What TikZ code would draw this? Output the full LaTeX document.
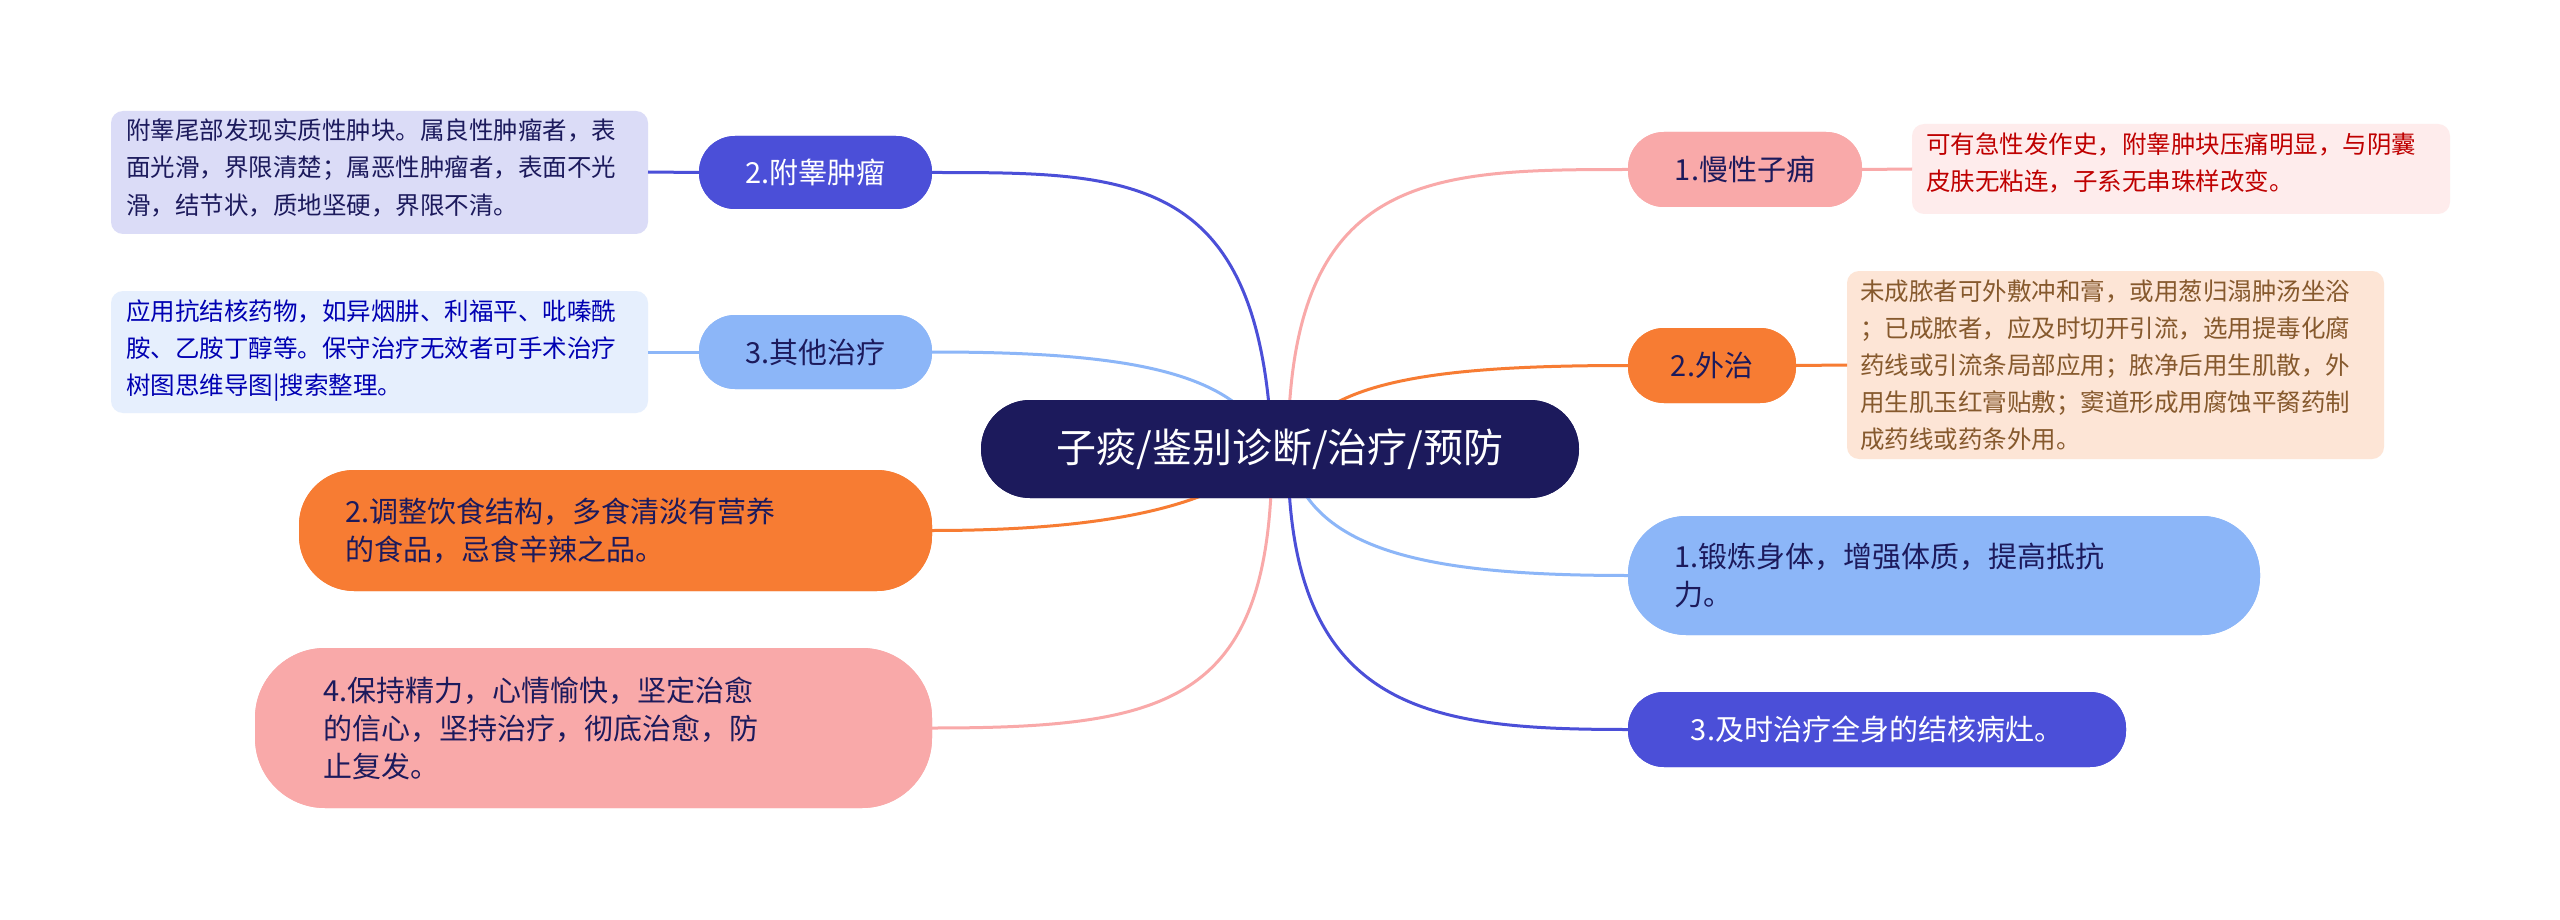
\documentclass[tikz,border=0pt]{standalone}
\usepackage{fontspec}
\setmainfont{Noto Sans CJK SC}
\begin{document}
\begin{tikzpicture}[x=1pt,y=-1pt,
  box/.style={rounded corners=#1, inner sep=0pt, anchor=north west},
  lbl/.style={font=\fontsize{29}{38}\selectfont, align=left},
  desc/.style={font=\fontsize{24.5}{37}\selectfont, align=left, anchor=north west, inner sep=0pt},
  edge/.style={line width=3pt}]
\definecolor{navy}{HTML}{1C1A5C}
\definecolor{blueA}{HTML}{4B4FD8}
\definecolor{lblue}{HTML}{8CB6F8}
\definecolor{orng}{HTML}{F77C33}
\definecolor{pnk}{HTML}{F9A9A9}
\useasboundingbox (0,0) rectangle (2560,920);
\fill[white] (0,0) rectangle (2560,920);
% center
\node[fill=navy, rounded corners=49pt, minimum width=598pt, minimum height=98pt, text=white, font=\fontsize{40}{48}\selectfont] (c) at (1280,449) {子痰/鉴别诊断/治疗/预防};
\coordinate (cR) at (1288,452);
\coordinate (cL) at (1272,452);
% left branches
\node[fill=blueA, rounded corners=36pt, minimum width=233pt, minimum height=73pt, text=white, lbl] (a1) at (815.5,172.5) {2.附睾肿瘤};
\node[fill=lblue, rounded corners=36pt, minimum width=233pt, minimum height=74pt, text=navy, lbl] (a2) at (815.5,352) {3.其他治疗};
\node[fill=orng, rounded corners=55pt, minimum width=633pt, minimum height=121pt, text=navy, lbl, text width=540pt] (a3) at (615.5,530.5) {2.调整饮食结构，多食清淡有营养\\的食品，忌食辛辣之品。};
\node[fill=pnk, rounded corners=70pt, minimum width=677pt, minimum height=160pt, text=navy, lbl, text width=540pt] (a4) at (593.5,728) {4.保持精力，心情愉快，坚定治愈\\的信心，坚持治疗，彻底治愈，防\\止复发。};
% right branches
\node[fill=pnk, rounded corners=36pt, minimum width=234pt, minimum height=75pt, text=navy, lbl] (b1) at (1745,169.5) {1.慢性子痈};
\node[fill=orng, rounded corners=36pt, minimum width=168pt, minimum height=75pt, text=navy, lbl] (b2) at (1712,365.5) {2.外治};
\node[fill=lblue, rounded corners=58pt, minimum width=632pt, minimum height=119pt, text=navy, lbl, text width=540pt] (b3) at (1944,575.5) {1.锻炼身体，增强体质，提高抵抗\\力。};
\node[fill=blueA, rounded corners=36pt, minimum width=498pt, minimum height=75pt, text=white, lbl] (b4) at (1877,729.5) {3.及时治疗全身的结核病灶。};
% descriptions
\fill[fill=blueA!20, rounded corners=12pt] (111,111) rectangle (648,234);
\node[desc, text=navy] (d1) at (126,119) {附睾尾部发现实质性肿块。属良性肿瘤者，表\\面光滑，界限清楚；属恶性肿瘤者，表面不光\\滑，结节状，质地坚硬，界限不清。};
\fill[fill=lblue!22, rounded corners=12pt] (111,291) rectangle (648,413);
\node[desc, text=blue!70!black] (d2) at (126,299) {应用抗结核药物，如异烟肼、利福平、吡嗪酰\\胺、乙胺丁醇等。保守治疗无效者可手术治疗\\树图思维导图|搜索整理。};
\fill[fill=pnk!22, rounded corners=12pt] (1912,124) rectangle (2450,214);
\node[desc, text=red!75!black] (d3) at (1926,133) {可有急性发作史，附睾肿块压痛明显，与阴囊\\皮肤无粘连，子系无串珠样改变。};
\fill[fill=orng!20, rounded corners=12pt] (1847,271) rectangle (2384,459);
\node[desc, text=brown!70!black] (d4) at (1860,280) {未成脓者可外敷冲和膏，或用葱归溻肿汤坐浴\\；已成脓者，应及时切开引流，选用提毒化腐\\药线或引流条局部应用；脓净后用生肌散，外\\用生肌玉红膏贴敷；窦道形成用腐蚀平胬药制\\成药线或药条外用。};
% edges
\begin{scope}[on background layer/.try]
\end{scope}
\draw[edge, blueA] (cL) .. controls +(-10,-280) and +(200,0) .. (a1.east);
\draw[edge, lblue] (cL) .. controls +(-30,-80) and +(200,0) .. (a2.east);
\draw[edge, orng] (cL) .. controls +(-40,40) and +(220,0) .. (a3.east);
\draw[edge, pnk] (cL) .. controls +(0,250) and +(240,0) .. (a4.east);
\draw[edge, pnk] (cR) .. controls +(0,-280) and +(-200,0) .. (b1.west);
\draw[edge, orng] (cR) .. controls +(30,-70) and +(-200,0) .. (b2.west);
\draw[edge, lblue] (cR) .. controls +(20,100) and +(-200,0) .. (b3.west);
\draw[edge, blueA] (cR) .. controls +(0,260) and +(-200,0) .. (b4.west);
\draw[edge, blueA] (a1.west) -- (648,172);
\draw[edge, lblue] (a2.west) -- (648,352);
\draw[edge, pnk] (b1.east) -- (1912,169);
\draw[edge, orng] (b2.east) -- (1847,365);
% redraw nodes on top
\node[fill=navy, rounded corners=49pt, minimum width=598pt, minimum height=98pt, text=white, font=\fontsize{40}{48}\selectfont] at (1280,449) {子痰/鉴别诊断/治疗/预防};
\node[fill=blueA, rounded corners=36pt, minimum width=233pt, minimum height=73pt, text=white, lbl] at (815.5,172.5) {2.附睾肿瘤};
\node[fill=lblue, rounded corners=36pt, minimum width=233pt, minimum height=74pt, text=navy, lbl] at (815.5,352) {3.其他治疗};
\node[fill=orng, rounded corners=55pt, minimum width=633pt, minimum height=121pt, text=navy, lbl, text width=540pt] at (615.5,530.5) {2.调整饮食结构，多食清淡有营养\\的食品，忌食辛辣之品。};
\node[fill=pnk, rounded corners=70pt, minimum width=677pt, minimum height=160pt, text=navy, lbl, text width=540pt] at (593.5,728) {4.保持精力，心情愉快，坚定治愈\\的信心，坚持治疗，彻底治愈，防\\止复发。};
\node[fill=pnk, rounded corners=36pt, minimum width=234pt, minimum height=75pt, text=navy, lbl] at (1745,169.5) {1.慢性子痈};
\node[fill=orng, rounded corners=36pt, minimum width=168pt, minimum height=75pt, text=navy, lbl] at (1712,365.5) {2.外治};
\node[fill=lblue, rounded corners=58pt, minimum width=632pt, minimum height=119pt, text=navy, lbl, text width=540pt] at (1944,575.5) {1.锻炼身体，增强体质，提高抵抗\\力。};
\node[fill=blueA, rounded corners=36pt, minimum width=498pt, minimum height=75pt, text=white, lbl] at (1877,729.5) {3.及时治疗全身的结核病灶。};
\end{tikzpicture}
\end{document}
